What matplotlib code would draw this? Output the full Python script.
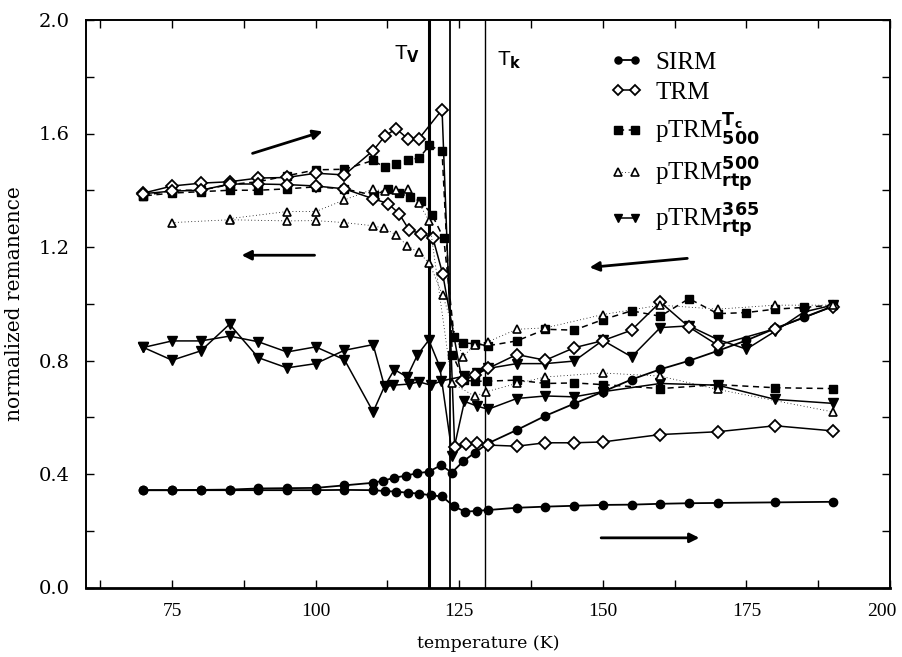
import matplotlib
matplotlib.use("Agg")
import matplotlib.pyplot as plt
import matplotlib.transforms as mtransforms
from matplotlib.ticker import MultipleLocator, FixedLocator

plt.rcParams['mathtext.fontset'] = 'custom'
plt.rcParams['mathtext.sf'] = 'DejaVu Sans:bold'
plt.rcParams['mathtext.rm'] = 'Liberation Serif'

# ---------------- data ----------------
sirm_cool_T = [190,185,180,175,170,165,160,155,150,145,140,135,130,127.7,125.7,123.7,121.8,119.7,117.7,115.7,113.7,111.7,110,105,100,95,90,85,80,75,70]
sirm_cool_v = [0.991,0.952,0.913,0.871,0.834,0.799,0.769,0.733,0.690,0.648,0.605,0.555,0.508,0.475,0.445,0.405,0.431,0.408,0.403,0.394,0.387,0.376,0.369,0.360,0.351,0.350,0.349,0.345,0.344,0.343,0.343]
sirm_warm_T = [70,75,80,85,90,95,100,105,110,112,114,116,118,120,122,124,126,128,130,135,140,145,150,155,160,165,170,180,190]
sirm_warm_v = [0.343,0.343,0.343,0.343,0.343,0.343,0.343,0.344,0.343,0.340,0.338,0.334,0.331,0.325,0.321,0.287,0.267,0.270,0.273,0.281,0.285,0.288,0.291,0.292,0.295,0.297,0.298,0.300,0.302]

trm_cool_T = [190,180,170,165,160,155,150,145,140,135,130,127.7,125.5,122.1,120.4,118.4,116.3,114.5,112.6,110,105,100,95,90,85,80,75,70]
trm_cool_v = [0.990,0.912,0.854,0.918,1.006,0.907,0.870,0.845,0.801,0.821,0.772,0.748,0.726,1.106,1.232,1.247,1.259,1.318,1.353,1.370,1.405,1.415,1.420,1.422,1.422,1.400,1.397,1.388]
trm_warm_T = [70,75,80,85,90,95,100,105,110,112,114,116,118,122,124.2,126.1,128,130,135,140,145,150,160,170,180,190]
trm_warm_v = [1.390,1.415,1.425,1.430,1.443,1.445,1.460,1.454,1.540,1.590,1.617,1.582,1.582,1.684,0.494,0.504,0.510,0.502,0.498,0.510,0.510,0.513,0.539,0.549,0.570,0.552]

tc_cool_T = [190,185,180,175,170,165,160,155,150,145,140,135,130,127.8,125.6,124.1,122.3,120.3,118.3,116.4,114.5,112.6,110.2,105,100,95,90,85,80,75,70]
tc_cool_v = [0.995,0.987,0.981,0.969,0.965,1.018,0.956,0.975,0.944,0.907,0.910,0.869,0.852,0.859,0.862,0.883,1.230,1.312,1.362,1.376,1.390,1.405,1.382,1.405,1.412,1.405,1.400,1.400,1.395,1.390,1.380]
tc_warm_T = [70,75,80,85,90,95,100,105,110,112,114,116,118,119.8,122,123.8,125.9,127.8,129.8,135,140,145,150,160,170,180,190]
tc_warm_v = [1.380,1.400,1.400,1.420,1.430,1.451,1.472,1.474,1.505,1.481,1.494,1.508,1.513,1.558,1.537,0.820,0.730,0.727,0.727,0.731,0.719,0.721,0.715,0.701,0.715,0.704,0.701]

r500_cool_T = [190,180,170,160,150,140,135,130,127.7,125.6,122.1,119.8,117.9,115.9,114,111.9,109.9,105,100,95,85,75]
r500_cool_v = [0.995,0.995,0.981,0.995,0.962,0.915,0.910,0.866,0.855,0.813,1.030,1.143,1.181,1.205,1.243,1.266,1.275,1.286,1.293,1.292,1.296,1.286]
r500_warm_T = [85,95,100,105,110,112,114,116,118,119.8,123.7,127.7,129.7,135,140,150,160,170,190]
r500_warm_v = [1.300,1.325,1.325,1.366,1.404,1.396,1.401,1.404,1.354,1.290,0.721,0.674,0.690,0.719,0.742,0.756,0.745,0.698,0.619]

r365_cool_T = [190,185,180,175,170,165,160,155,150,145,140,135,130,128,125.9,121.9,120,118,116.3,113.5,112,110,105,100,95,90,85,80,75,70]
r365_cool_v = [0.995,0.971,0.903,0.840,0.874,0.922,0.916,0.813,0.871,0.798,0.789,0.789,0.772,0.755,0.745,0.728,0.713,0.725,0.717,0.713,0.707,0.856,0.836,0.789,0.774,0.810,0.928,0.834,0.801,0.846]
r365_warm_T = [70,75,80,85,90,95,100,105,110,112,113.7,115.9,117.7,119.7,121.6,123.8,125.9,128,130,135,140,145,150,160,170,180,190]
r365_warm_v = [0.846,0.869,0.869,0.886,0.866,0.830,0.848,0.803,0.619,0.710,0.768,0.742,0.819,0.872,0.778,0.465,0.656,0.640,0.628,0.666,0.675,0.672,0.690,0.719,0.713,0.663,0.649]

transitions_T = [119.7, 123.4, 129.5]

x_major = [75, 100, 125, 150, 175, 200]
y_major = [0.0, 0.4, 0.8, 1.2, 1.6, 2.0]

# ---------------- figure ----------------
fig = plt.figure(figsize=(9.03, 6.57), dpi=100)
ax = fig.add_axes([86/903, 1-587.5/657, 804/903, 567.5/657])
ax.set_xlim(60, 200)
ax.set_ylim(0, 2.0)

for t, lw in zip(transitions_T, [2.2, 1.3, 1.0]):
    ax.axvline(t, color='black', lw=lw, zorder=1)

sty = {
    'sirm': dict(color='black', marker='o', ms=6, mfc='black', mec='black', ls='-', lw=1.3),
    'trm': dict(color='black', marker='D', ms=6.2, mfc='white', mec='black', mew=1.3, ls='-', lw=1.1),
    'tc': dict(color='black', marker='s', ms=6.2, mfc='black', mec='black', ls=(0, (4, 3)), lw=1.1),
    'r500': dict(color='black', marker='^', ms=6, mfc='white', mec='black', mew=1.2, ls=(0, (1, 3)), lw=0.6),
    'r365': dict(color='black', marker='v', ms=6.5, mfc='black', mec='black', ls='-', lw=1.1),
}

h_sirm, = ax.plot(sirm_warm_T, sirm_warm_v, zorder=3, **sty['sirm'])
ax.plot(sirm_cool_T, sirm_cool_v, zorder=3, **sty['sirm'])
h_trm, = ax.plot(trm_warm_T, trm_warm_v, zorder=4, **sty['trm'])
ax.plot(trm_cool_T, trm_cool_v, zorder=4, **sty['trm'])
h_tc, = ax.plot(tc_warm_T, tc_warm_v, zorder=3, **sty['tc'])
ax.plot(tc_cool_T, tc_cool_v, zorder=3, **sty['tc'])
h_500, = ax.plot(r500_warm_T, r500_warm_v, zorder=4, **sty['r500'])
ax.plot(r500_cool_T, r500_cool_v, zorder=4, **sty['r500'])
h_365, = ax.plot(r365_warm_T, r365_warm_v, zorder=3, **sty['r365'])
ax.plot(r365_cool_T, r365_cool_v, zorder=3, **sty['r365'])

# arrows
ap = dict(arrowstyle='-|>', color='black', lw=2.0, mutation_scale=14, shrinkA=0, shrinkB=0)
ax.annotate('', xy=(101.2, 1.607), xytext=(89.0, 1.530), arrowprops=ap)
ax.annotate('', xy=(87.1, 1.171), xytext=(99.8, 1.171), arrowprops=ap)
ax.annotate('', xy=(147.7, 1.128), xytext=(164.7, 1.160), arrowprops=ap)
ax.annotate('', xy=(166.8, 0.175), xytext=(149.7, 0.175), arrowprops=ap)

# transition labels
ax.text(113.6, 1.88, r'T$_{\mathsf{V}}$', family='Liberation Sans', fontsize=15, ha='left', va='center')
ax.text(131.5, 1.86, r'T$_{\mathsf{k}}$', family='Liberation Sans', fontsize=15, ha='left', va='center')

# axes styling
for s in ax.spines.values():
    s.set_linewidth(1.4)
ax.spines['bottom'].set_linewidth(2.0)

ax.xaxis.set_major_locator(FixedLocator(x_major))
ax.xaxis.set_minor_locator(MultipleLocator(12.5))
ax.yaxis.set_major_locator(FixedLocator(y_major))
ax.yaxis.set_minor_locator(MultipleLocator(0.2))
ax.tick_params(which='both', direction='in', top=True, right=True, length=6, width=1.0)
ax.tick_params(axis='x', which='major', pad=11)
ax.tick_params(axis='y', which='major', pad=12)
ax.set_xticklabels([str(v) for v in x_major], family='Liberation Serif', fontsize=14)
ax.set_yticklabels(['%.1f' % v for v in y_major], family='DejaVu Serif', fontsize=14)

# keep the last x tick label inside the figure edge
last = ax.get_xticklabels()[-1]
last.set_transform(last.get_transform() + mtransforms.ScaledTranslation(-8/100, 0, fig.dpi_scale_trans))

ax.set_xlabel('temperature (K)', family='DejaVu Serif', fontsize=12.5, labelpad=11)
ax.set_ylabel('normalized remanence', family='DejaVu Serif', fontsize=14.5, labelpad=10)

leg = ax.legend([h_sirm, h_trm, h_tc, h_500, h_365],
                ['SIRM', 'TRM', r'pTRM$^{\mathsf{T_c}}_{\mathsf{500}}$',
                 r'pTRM$^{\mathsf{500}}_{\mathsf{rtp}}$', r'pTRM$^{\mathsf{365}}_{\mathsf{rtp}}$'],
                loc='upper left', bbox_to_anchor=(0.63, 0.975), frameon=False,
                numpoints=2, markerscale=0.85, handlelength=1.3, handletextpad=0.5,
                labelspacing=0.3, prop={'family': 'Liberation Serif', 'size': 18}, borderpad=0.2)

fig.savefig('out.png', dpi=100)
